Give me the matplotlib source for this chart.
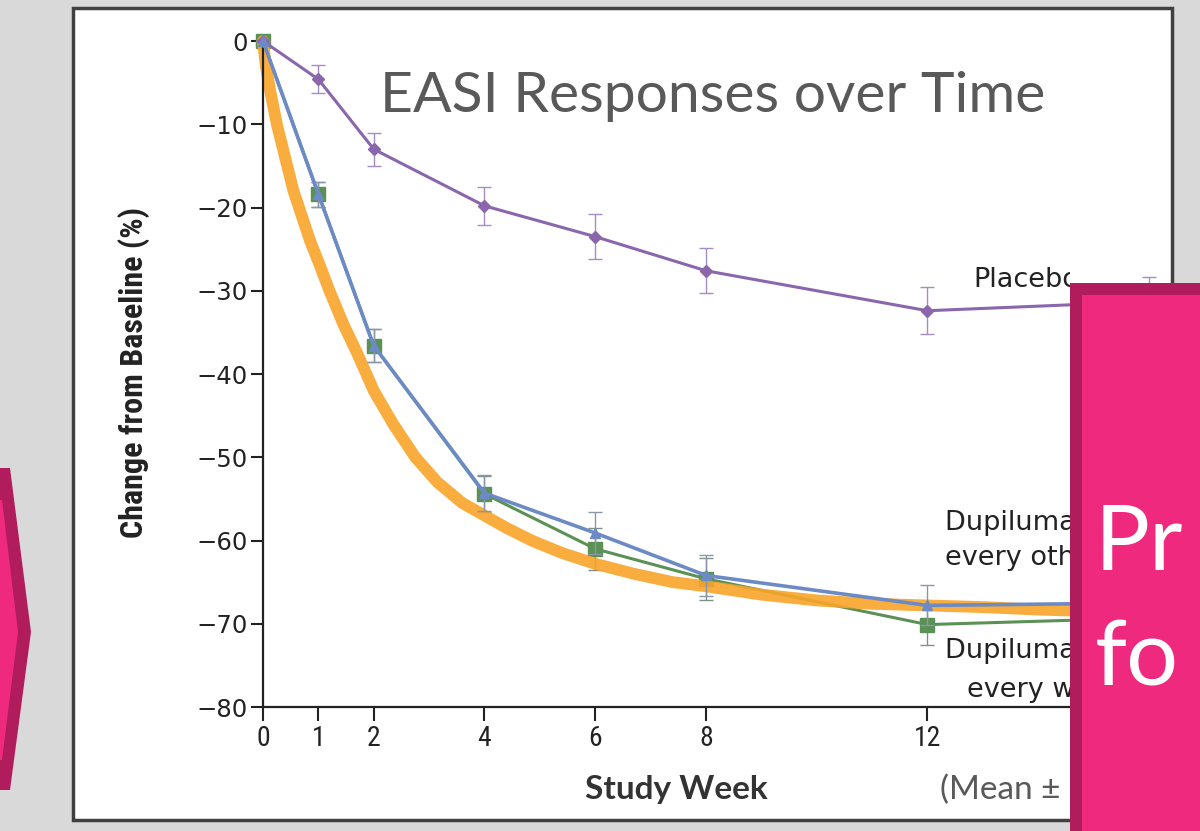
import matplotlib
matplotlib.use("Agg")
import matplotlib.pyplot as plt
import matplotlib.patches as patches
from matplotlib import font_manager
from matplotlib.transforms import Bbox

# data
weeks = [0, 1, 2, 4, 6, 8, 12, 16]
placebo = [0, -4.6, -13.0, -19.8, -23.5, -27.6, -32.4, -31.3]
placebo_se = [0, 1.7, 2.0, 2.3, 2.7, 2.7, 2.8, 3.0]
q2w = [0, -18.4, -36.6, -54.3, -59.1, -64.2, -67.8, -67.5]
q2w_se = [0, 1.5, 2.0, 2.2, 2.5, 2.5, 2.4, 2.4]
qw = [0, -18.4, -36.6, -54.4, -61.0, -64.6, -70.1, -69.3]
qw_se = [0, 1.5, 2.0, 2.2, 2.5, 2.5, 2.4, 2.4]

# hand drawn orange overlay
orange_wk = [0, 0.05, 0.13, 0.25, 0.4, 0.55, 0.7, 0.85, 1.0, 1.2, 1.45, 1.7,
             2.0, 2.35, 2.75, 3.15, 3.6, 4.0, 4.4, 4.85, 5.4, 6.0, 6.7, 7.4,
             8.0, 9.0, 10.0, 11.0, 12.0, 13.0, 14.0, 15.0, 16.0]
orange_val = [0, -3, -6, -10, -14, -18, -21, -24, -26.5, -30, -34, -37.5,
              -42, -46, -50, -53, -55.5, -57, -58.5, -60, -61.5, -62.8, -64, -65,
              -65.5, -66.5, -67.2, -67.6, -67.8, -68, -68.3, -68.5, -68.7]

yticks = [0, -10, -20, -30, -40, -50, -60, -70, -80]
xticks = [0, 1, 2, 4, 6, 8, 12, 16]

installed = {f.name for f in font_manager.fontManager.ttflist}
def pick(*names):
    for n in names:
        if n in installed:
            return n
    return "DejaVu Sans"

narrow = pick("Liberation Sans Narrow", "Roboto Condensed", "DejaVu Sans")
office = pick("Lato", "Open Sans", "DejaVu Sans")

W, H = 1200, 831
fig = plt.figure(figsize=(12, 8.31), dpi=100)
fig.patch.set_facecolor("#d9d9d9")

def fx(px):
    return px / W
def fy(py):
    return 1 - py / H

# white chart frame
frame = patches.Rectangle((fx(73), fy(820)), fx(1172) - fx(73), fy(8) - fy(820),
                          transform=fig.transFigure, facecolor="white",
                          edgecolor="#404040", linewidth=2.5, zorder=-5)
fig.patches.append(frame)

ax = fig.add_axes([fx(263), fy(707), (1160 - 263) / W, (707 - 41) / H])
ax.set_zorder(1)
ax.set_facecolor("none")
ax.set_xlim(0, 16.2)
ax.set_ylim(-80, 0)

for s in ["top", "right"]:
    ax.spines[s].set_visible(False)
for s in ["left", "bottom"]:
    ax.spines[s].set_linewidth(1.6)
    ax.spines[s].set_color("#222222")

ax.set_yticks(yticks)
ax.set_yticklabels([f"{v}".replace("-", "\u2212") for v in yticks],
                   fontsize=17.5, family="DejaVu Sans", color="#222222")
ax.set_xticks(xticks)
ax.set_xticklabels([str(v) for v in xticks], fontsize=20, family=narrow,
                   color="#222222")
ax.tick_params(axis="y", length=9, width=1.5, pad=2, color="#222222")
ax.tick_params(axis="x", length=10, width=1.5, pad=3, color="#222222")

purple = "#8a67ad"
blue = "#6c8bc4"
green = "#5b9155"
orange = "#f9a42a"

ax.errorbar(weeks, placebo, yerr=placebo_se, color=purple, lw=2.2,
            marker="D", ms=6, elinewidth=1, ecolor="#a48cc4", capsize=5,
            capthick=1, clip_on=False, zorder=3)
ax.errorbar(weeks, qw, yerr=qw_se, color=green, lw=2.2, marker="s", ms=10,
            elinewidth=1, ecolor="#7f8f8a", capsize=5, capthick=1,
            clip_on=False, zorder=2)
ax.plot(orange_wk, orange_val, color=orange, lw=8.5, alpha=0.9,
        solid_capstyle="round", zorder=2.5, clip_on=False)
ax.errorbar(weeks, q2w, yerr=q2w_se, color=blue, lw=2.6, marker="^", ms=7,
            elinewidth=1, ecolor="#8a96aa", capsize=5, capthick=1,
            clip_on=False, zorder=3)

ax.set_ylabel("Change from Baseline (%)", fontsize=23, family=narrow,
              fontweight="bold", color="#222222")
ax.yaxis.set_label_coords(-(263 - 150) / (1160 - 263), (707 - 372) / (707 - 41))
ax.set_xlabel("Study Week", fontsize=24, family=office, fontweight="bold",
              color="#333333")
ax.xaxis.set_label_coords((676 - 263) / (1160 - 263), -(790 - 707) / (707 - 41))
ax.xaxis.label.set_va("center")

fig.text(fx(380), fy(97), "EASI Responses over Time", fontsize=41,
         family=office, color="#595959", va="center", ha="left")

# labels cut off by the pink box
clip = Bbox.from_extents(0, 0, 1070, H)
labels = [(973, 280, "Placebo"),
          (945, 523, "Dupilumab, 300 mg"),
          (945, 558, "every other week"),
          (945, 651, "Dupilumab, 300 mg"),
          (967, 690, "every week")]
for x, y, s in labels:
    t = fig.text(fx(x), fy(y), s, fontsize=19.5, family="DejaVu Sans",
                 color="#222222", va="center")
    t.set_clip_box(clip)
t = fig.text(fx(940), fy(790), "(Mean \u00b1 SE)", fontsize=24, family=office,
             color="#595959", va="center")
t.set_clip_box(clip)

# pink box on the right
dark_pink = "#b01c5c"
pink = "#ef2a7e"
box = patches.Rectangle((fx(1070), fy(840)), fx(1210) - fx(1070), fy(283) - fy(840),
                        transform=fig.transFigure, facecolor=dark_pink,
                        edgecolor="none", zorder=10)
inner = patches.Rectangle((fx(1082), fy(840)), fx(1210) - fx(1082), fy(295) - fy(840),
                          transform=fig.transFigure, facecolor=pink,
                          edgecolor="none", zorder=11)
fig.patches.extend([box, inner])
fig.text(fx(1095), fy(545), "Pr", fontsize=66, family=office, color="white",
         va="center", zorder=12)
fig.text(fx(1095), fy(660), "fo", fontsize=66, family=office, color="white",
         va="center", zorder=12)

# pink chevron on the left
outer_chev = patches.Polygon([(fx(0), fy(468)), (fx(10), fy(468)), (fx(31), fy(632)),
                              (fx(10), fy(790)), (fx(0), fy(790))],
                             closed=True, transform=fig.transFigure,
                             facecolor=dark_pink, edgecolor="none", zorder=1)
inner_chev = patches.Polygon([(fx(0), fy(500)), (fx(2), fy(500)), (fx(18), fy(632)),
                              (fx(2), fy(760)), (fx(0), fy(760))],
                             closed=True, transform=fig.transFigure,
                             facecolor=pink, edgecolor="none", zorder=2)
fig.patches.extend([outer_chev, inner_chev])

fig.savefig("out.png", dpi=100, facecolor=fig.get_facecolor())
